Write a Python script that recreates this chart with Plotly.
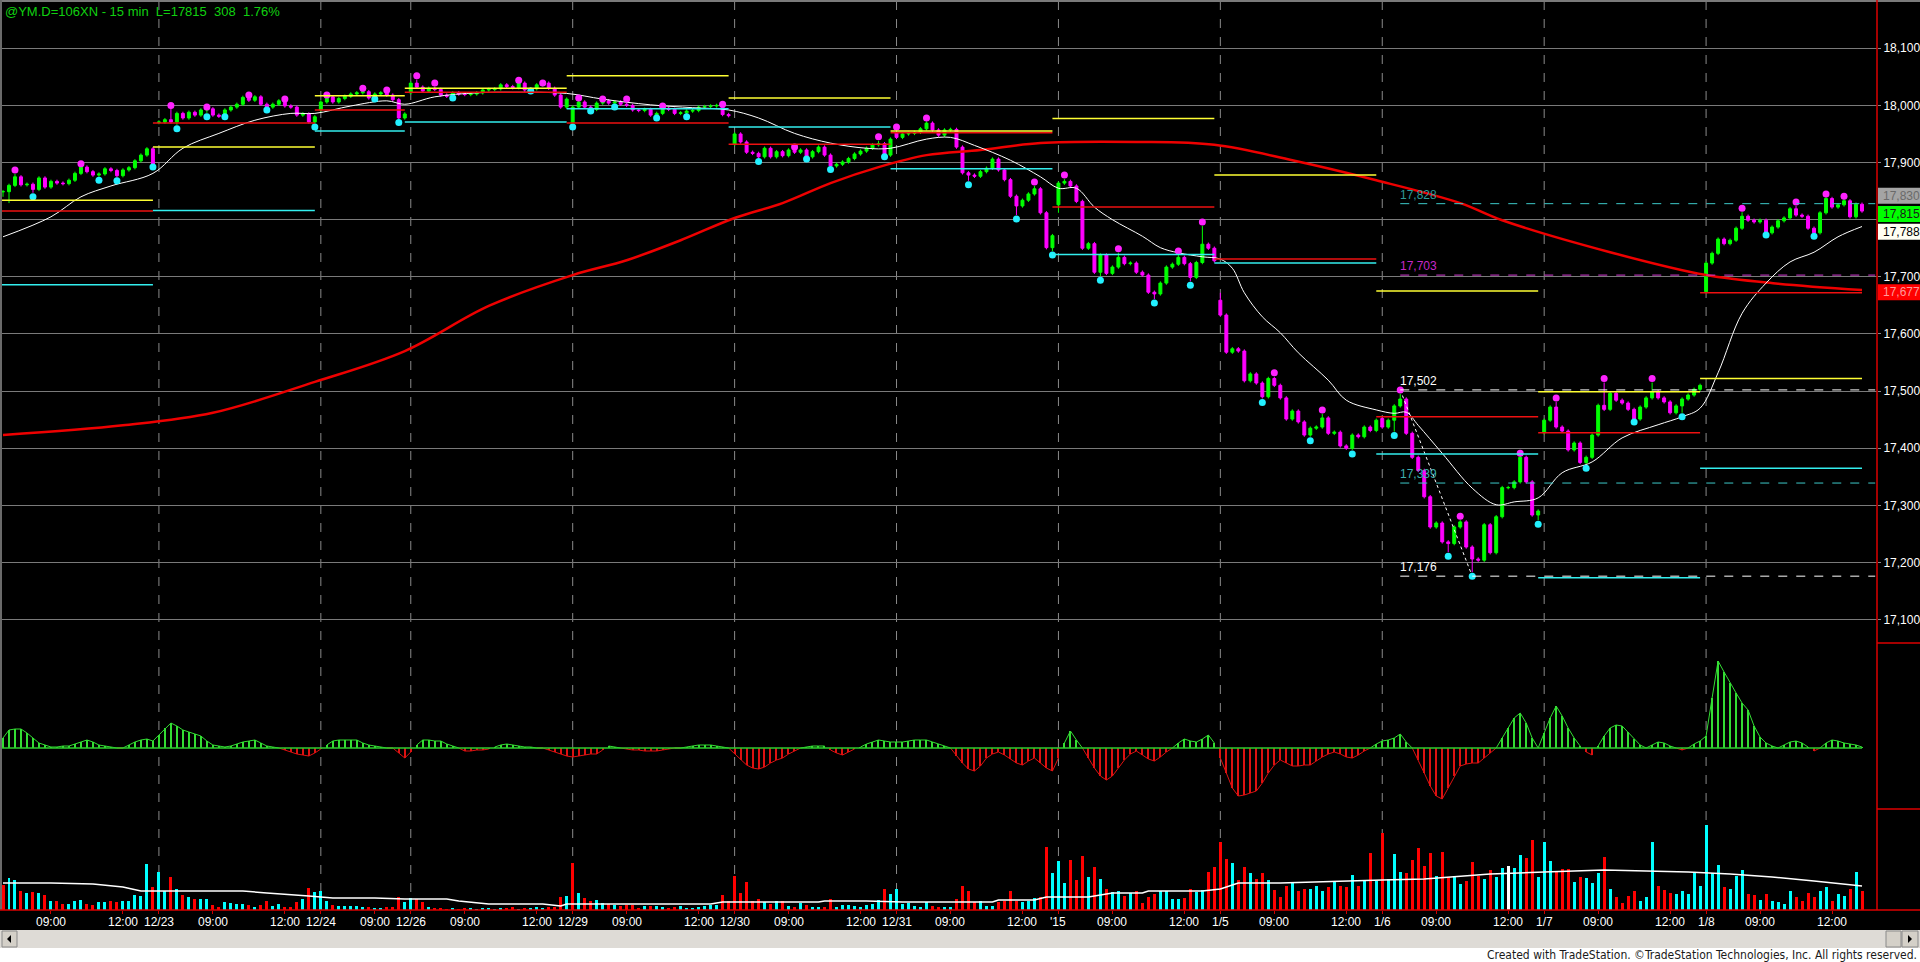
import plotly.graph_objects as go

# ---- chart data ----
SESSIONS = ["12/22", "12/23", "12/24", "12/26", "12/29", "12/30",
            "12/31", "'15", "1/5", "1/6", "1/7", "1/8"]
HIDDEN_FIRST = 1  # first bar of 12/22 scrolled off the left edge

SESSION_OPENS = [17849, 17970, 17992, 18022, 17969, 17932,
                 17952, 17826, 17659, 17452, 17427, 17674]

CLOSES = [
    [17849, 17860, 17875, 17861, 17862, 17853, 17873, 17857, 17867, 17864, 17863, 17869, 17881,
     17892, 17884, 17878, 17880, 17889, 17886, 17877, 17887, 17891, 17903, 17913, 17924, 17896],
    [17971, 17975, 17971, 17986, 17978, 17988, 17983, 17992, 17994, 17983, 17981, 17992, 17997, 18002,
     18014, 18009, 18015, 18002, 17997, 18002, 18008, 17999, 17997, 17983, 17985, 17971, 17980],
    [18006, 18015, 18006, 18012, 18016, 18020, 18022, 18024, 18013, 18020, 18022, 18018, 18010, 17978, 17985],
    [18039, 18032, 18025, 18030, 18028, 18018, 18016, 18022, 18020, 18019, 18020, 18022, 18027, 18028,
     18029, 18036, 18033, 18031, 18039, 18027, 18029, 18036, 18039, 18030, 18018, 17997, 18011],
    [17997, 18006, 17997, 17993, 18004, 18008, 18004, 18006, 18002, 18000, 17992, 17991, 17993, 17983,
     17986, 17995, 17993, 17986, 17987, 17990, 17991, 17997, 17998, 17999, 18000, 17984, 17982],
    [17950, 17936, 17918, 17916, 17910, 17925, 17910, 17919, 17912, 17922, 17918, 17922, 17910, 17919,
     17927, 17913, 17894, 17897, 17901, 17907, 17915, 17920, 17925, 17931, 17933, 17913, 17941],
    [17944, 17950, 17951, 17953, 17959, 17969, 17957, 17948, 17957, 17958, 17927, 17882, 17878, 17876,
     17884, 17890, 17906, 17887, 17870, 17841, 17824, 17834, 17845, 17854, 17812, 17751, 17772],
    [17864, 17867, 17859, 17832, 17750, 17758, 17708, 17738, 17706, 17717, 17734, 17723, 17724, 17708,
     17703, 17673, 17670, 17689, 17717, 17722, 17734, 17723, 17699, 17725, 17757, 17750, 17728],
    [17633, 17568, 17574, 17570, 17518, 17530, 17514, 17490, 17522, 17510, 17488, 17451, 17465, 17446,
     17423, 17435, 17437, 17453, 17426, 17428, 17404, 17400, 17423, 17420, 17437, 17431, 17449],
    [17437, 17449, 17474, 17486, 17426, 17384, 17361, 17315, 17262, 17269, 17236, 17233, 17262, 17271,
     17227, 17206, 17204, 17266, 17217, 17280, 17331, 17331, 17341, 17384, 17341, 17283, 17290],
    [17449, 17472, 17437, 17430, 17397, 17409, 17375, 17384, 17423, 17475, 17468, 17496, 17484, 17479,
     17468, 17451, 17472, 17488, 17499, 17488, 17481, 17462, 17474, 17486, 17493, 17503, 17510],
    [17724, 17741, 17766, 17758, 17764, 17785, 17806, 17799, 17796, 17799, 17777, 17787, 17798, 17803,
     17819, 17808, 17806, 17785, 17777, 17812, 17837, 17822, 17826, 17833, 17805, 17827, 17815],
]

# long wicks that stick out of the bodies
WICK_HIGH = {28: 17995, 203: 17672, 176: 17866}
WICK_LOW = {176: 17812, 0: 17840, 1: 17829}

# swing dots
SWING_HIGH_BAR = [2, 13, 28, 34, 41, 47, 54, 60, 64, 69, 72, 86, 90, 96, 100, 104, 110, 120, 132,
                  146, 149, 154, 172, 177, 186, 196, 200, 212, 220, 233, 243, 253, 259, 267, 275,
                  290, 299, 304, 307]
SWING_HIGH = [17887, 17898, 18000, 17997, 18018, 18011, 18018, 18030, 18027, 18052, 18039, 18044,
              18039, 18013, 18011, 18011, 17999, 18002, 17927, 17945, 17962, 17978, 17866, 17878,
              17749, 17745, 17796, 17532, 17467, 17502, 17281, 17391, 17488, 17522, 17522, 17820,
              17831, 17845, 17841]
SWING_LOW_BAR = [5, 16, 19, 25, 29, 34, 37, 44, 52, 62, 66, 75, 88, 95, 98, 102, 109, 114, 126, 134,
                 138, 147, 161, 169, 175, 183, 192, 198, 210, 218, 225, 232, 241, 245, 256, 264,
                 272, 280, 294, 302]
SWING_LOW = [17840, 17869, 17868, 17892, 17959, 17980, 17980, 17992, 17962, 18011, 17970, 18013,
             18025, 17962, 17990, 17997, 17978, 17980, 17902, 17906, 17888, 17910, 17861, 17801,
             17738, 17694, 17654, 17685, 17480, 17413, 17390, 17422, 17211, 17176, 17267, 17365,
             17446, 17455, 17773, 17771]

# per-session reference levels
LEVEL_YELLOW = [17834, 17927, 18017, 18030, 18052, 18013, 17955, 17977, 17878, 17675, 17499, 17522]
LEVEL_RED = [17815, 17969, 17992, 18023, 17969, 17932, 17952, 17822, 17731, 17455, 17427, 17672]
LEVEL_CYAN = [17686, 17816, 17955, 17971, 17994, 17962, 17889, 17739, 17724, 17390, 17173, 17365]

# moving averages
MA_FAST_BAR = [0, 8, 13, 18, 25, 30, 36, 42, 48, 52, 58, 64, 67, 72, 79, 85, 94, 100, 108, 115, 121,
               126, 132, 138, 144, 148, 154, 158, 162, 168, 173, 176, 179, 182, 185, 190, 193, 196,
               200, 203, 205, 207, 210, 213, 216, 221, 224, 229, 232, 234, 236, 240, 245, 249, 252,
               256, 260, 265, 270, 276, 280, 283, 286, 290, 294, 298, 302, 306, 310]
MA_FAST = [17770, 17805, 17840, 17859, 17881, 17925, 17951, 17974, 17986, 17986, 17999, 18008, 18002,
           18015, 18022, 18023, 18021, 18011, 18001, 17996, 17992, 17978, 17951, 17934, 17925, 17925,
           17941, 17944, 17930, 17904, 17875, 17855, 17855, 17822, 17800, 17771, 17751, 17742, 17735,
           17731, 17715, 17672, 17630, 17602, 17567, 17519, 17484, 17467, 17461, 17463, 17440, 17391,
           17330, 17301, 17306, 17313, 17357, 17376, 17418, 17441, 17455, 17470, 17532, 17636, 17689,
           17726, 17743, 17770, 17788]
MA_SLOW_BAR = [0, 20, 35, 52, 67, 81, 95, 104, 113, 122, 130, 138, 146, 154, 163, 173, 189, 202,
               215, 229, 243, 250, 268, 284, 296, 310]
MA_SLOW = [17423, 17440, 17462, 17516, 17570, 17649, 17703, 17729, 17764, 17803, 17829, 17864,
           17892, 17913, 17922, 17934, 17936, 17931, 17904, 17869, 17829, 17799, 17743, 17703,
           17688, 17677]

# dashed levels drawn from the 1/6 swing high onwards
MARK_BAR = 233
MARK_LEVELS = [17828, 17703, 17502, 17339, 17176]
MARK_TEXT = ["17,828", "17,703", "17,502", "17,339", "17,176"]
MARK_LINE_COLORS = ["#3cc8c8", "#d23cd2", "#ffffff", "#3cc8c8", "#ffffff"]
MARK_TEXT_COLORS = ["#2f9a9a", "#c828c8", "#ffffff", "#3fb0b0", "#ffffff"]
ZIGZAG_BAR = [233, 245]
ZIGZAG = [17502, 17176]

# oscillator (pixels above the zero line)
OSC = [10, 18, 19, 19, 15, 10, 5, 3, 1, 1,
       2, 2, 4, 6, 8, 6, 3, 2, 1, 0,
       0, 3, 6, 8, 9, 7, 13, 20, 25, 22,
       18, 16, 14, 12, 7, 3, 2, 1, 2, 4,
       6, 7, 8, 5, 2, 1, 0, -2, -4, -6,
       -7, -8, -5, -1, 3, 7, 8, 8, 8, 8,
       5, 3, 2, 1, 0, 0, -5, -10, -4, 3,
       8, 8, 7, 7, 4, 2, 0, -3, -3, -2,
       -2, -1, 1, 3, 4, 3, 2, 1, 1, 0,
       0, -2, -4, -6, -8, -9, -8, -7, -6, -6,
       -2, 2, 1, 0, -1, -2, -2, -3, -3, -3,
       -2, -1, 0, 0, 1, 2, 3, 3, 3, 2,
       1, 0, -6, -12, -17, -20, -21, -19, -15, -12,
       -10, -6, -3, 0, 1, 2, 2, 2, -2, -5,
       -7, -4, -1, 1, 4, 6, 8, 7, 6, 6,
       6, 7, 8, 8, 8, 6, 4, 2, 0, -8,
       -15, -21, -23, -18, -10, -6, -4, -7, -11, -15,
       -17, -13, -10, -15, -20, -23, -10, 5, 17, 8,
       0, -10, -20, -28, -32, -28, -20, -12, -6, -3,
       -7, -11, -13, -9, -4, 0, 5, 9, 7, 6,
       9, 13, 5, -10, -25, -40, -48, -47, -45, -43,
       -35, -25, -17, -12, -15, -18, -18, -17, -17, -13,
       -9, -6, -4, -6, -9, -10, -7, -3, 0, 4,
       7, 8, 10, 14, 6, 0, -12, -25, -38, -48,
       -51, -40, -28, -18, -16, -15, -15, -10, -5, 0,
       10, 20, 30, 35, 25, 10, 0, 15, 30, 42,
       32, 20, 10, 2, -4, -7, 2, 12, 20, 23,
       22, 16, 9, 3, 0, 3, 6, 5, 2, 0,
       -2, 0, 4, 7, 12, 50, 87, 76, 65, 55,
       45, 38, 22, 11, 5, 2, 0, 3, 6, 7,
       5, 1, -3, 0, 5, 8, 7, 5, 4, 3, 1]

# volume (relative bar heights)
VOLUME = [
    25, 32, 30, 19, 17, 18, 17, 15, 9, 9, 6, 6, 9, 10, 6, 5, 8, 8, 9, 8, 9, 9, 15, 14, 46, 23,
    38, 19, 33, 21, 15, 13, 11, 11, 11, 5, 3, 8, 7, 6, 6, 5, 3, 5, 9, 4, 6, 3, 3, 8, 11, 22, 18,
    19, 9, 5, 4, 4, 4, 4, 3, 3, 2, 2, 3, 3, 13, 8,
    12, 11, 8, 3, 2, 2, 1, 2, 1, 2, 2, 1, 2, 2, 1, 2, 2, 3, 1, 2, 2, 3, 2, 3, 3, 13, 14,
    47, 17, 12, 9, 10, 7, 6, 5, 4, 5, 5, 2, 4, 4, 4, 3, 2, 3, 4, 2, 2, 3, 4, 5, 5, 15, 9,
    34, 17, 28, 9, 11, 8, 6, 9, 9, 4, 3, 7, 5, 3, 3, 3, 11, 3, 5, 5, 4, 3, 5, 6, 10, 21, 16,
    21, 6, 7, 4, 3, 8, 4, 3, 3, 3, 11, 24, 19, 8, 9, 4, 4, 8, 9, 19, 9, 8, 9, 12, 13, 63, 37,
    49, 27, 50, 30, 54, 33, 43, 31, 21, 18, 19, 14, 17, 19, 7, 13, 16, 19, 19, 11, 11, 12, 21, 18, 20, 38, 43,
    68, 51, 47, 30, 43, 37, 31, 37, 30, 20, 13, 24, 27, 19, 21, 21, 24, 19, 23, 29, 24, 23, 35, 24, 29, 57, 29,
    77, 31, 56, 38, 37, 50, 62, 44, 57, 34, 58, 33, 34, 26, 29, 48, 34, 31, 40, 33, 42, 44, 42, 55, 52, 70, 33,
    68, 49, 38, 41, 41, 28, 33, 32, 27, 37, 53, 21, 13, 7, 14, 19, 9, 13, 68, 24, 20, 17, 16, 19, 16, 37, 24,
    85, 37, 45, 23, 21, 34, 40, 16, 15, 10, 16, 9, 8, 6, 19, 13, 9, 17, 13, 19, 23, 9, 16, 14, 21, 38, 19,
]
VOL_AVG_BAR = [0, 8, 15, 20, 23, 30, 40, 44, 47, 51, 55, 62, 67, 74, 76, 81, 90, 93, 94, 106, 118,
               120, 136, 137, 144, 150, 165, 166, 172, 174, 181, 185, 190, 191, 200, 203, 206, 213,
               223, 230, 237, 242, 248, 257, 267, 274, 281, 288, 295, 302, 310]
VOL_AVG = [27, 27, 26, 23, 19, 19, 19, 17, 16, 14, 12, 12, 11, 11, 9, 6, 6, 4, 6, 6, 6, 8, 8, 9, 9,
           8, 8, 10, 10, 13, 13, 17, 17, 19, 19, 21, 27, 27, 29, 30, 31, 33, 36, 38, 40, 39, 38,
           36, 33, 29, 24]

PRICE_TICKS = [17100, 17200, 17300, 17400, 17500, 17600, 17700, 17800, 17900, 18000, 18100]
COVERED_TICKS = [17800]  # label sits under the last-price flags
# right-edge value flags: text, centre price, background, text colour
FLAGS = [("17,830", 17842, "#a4a4a4", "#6a6a6a"),
         ("17,815", 17810, "#00ff00", "#1a1a1a"),
         ("17,788", 17779, "#fffff2", "#000000"),
         ("17,677", 17673, "#ff0000", "#ff9a9a")]

TITLE = "@YM.D=106XN - 15 min  L=17815  308  1.76%"
FOOTER = "Created with TradeStation. \u00a9TradeStation Technologies, Inc. All rights reserved."

FONT = "Liberation Sans, Arial, sans-serif"
NARROW = "Liberation Sans Narrow, DejaVu Sans Condensed, Liberation Sans, sans-serif"

# ---- pixel helpers for the page layout ----
W, H = 1920, 962
PLOT_R, PLOT_T, PLOT_B = 1877, 2, 910


def fx(px):
    return px / PLOT_R


def fy(py):
    return (PLOT_B - py) / (PLOT_B - PLOT_T)


# ---- build bars ----
opens, highs, lows, closes, starts = [], [], [], [], []
prev = None
pos = 0
for s, cl in enumerate(CLOSES):
    starts.append(pos - (HIDDEN_FIRST if s == 0 else 0))
    for k, c in enumerate(cl):
        o = SESSION_OPENS[s] if k == 0 else prev
        opens.append(o)
        closes.append(c)
        highs.append(max(o, c) + 3)
        lows.append(min(o, c) - 3)
        prev = c
        pos += 1
n = len(closes)
bars = list(range(n))

for b, p in zip(SWING_HIGH_BAR, SWING_HIGH):
    highs[b] = max(highs[b], p - 7)
for b, p in zip(SWING_LOW_BAR, SWING_LOW):
    lows[b] = min(lows[b], p + 7)
for b, p in WICK_HIGH.items():
    highs[b] = max(highs[b], p)
for b, p in WICK_LOW.items():
    lows[b] = min(lows[b], p)

vol_colors = []
for i, c in enumerate(closes):
    ref = closes[i - 1] if i > 0 else c + 1
    vol_colors.append("#00ffff" if c > ref else ("#ff0000" if c < ref else "#ffffff"))

fig = go.Figure()

fig.add_trace(go.Candlestick(
    x=bars, open=opens, high=highs, low=lows, close=closes,
    increasing=dict(line=dict(color="#00ff00", width=1), fillcolor="#00ff00"),
    decreasing=dict(line=dict(color="#ff00ff", width=1), fillcolor="#ff00ff"),
    xaxis="x", yaxis="y", hoverinfo="skip", showlegend=False))

fig.add_trace(go.Scatter(x=MA_SLOW_BAR, y=MA_SLOW, mode="lines", line=dict(color="#ee0000", width=2.5, shape="spline"),
                         xaxis="x", yaxis="y", hoverinfo="skip", showlegend=False))
fig.add_trace(go.Scatter(x=MA_FAST_BAR, y=MA_FAST, mode="lines", line=dict(color="#ffffff", width=1, shape="spline"),
                         xaxis="x", yaxis="y", hoverinfo="skip", showlegend=False))
fig.add_trace(go.Scatter(x=ZIGZAG_BAR, y=ZIGZAG, mode="lines", line=dict(color="#ffffff", width=1, dash="dot"),
                         xaxis="x", yaxis="y", hoverinfo="skip", showlegend=False))
fig.add_trace(go.Scatter(x=SWING_HIGH_BAR, y=SWING_HIGH, mode="markers",
                         marker=dict(color="#ff22ff", size=7), xaxis="x", yaxis="y",
                         hoverinfo="skip", showlegend=False))
fig.add_trace(go.Scatter(x=SWING_LOW_BAR, y=SWING_LOW, mode="markers",
                         marker=dict(color="#22f0ff", size=7), xaxis="x", yaxis="y",
                         hoverinfo="skip", showlegend=False))

# oscillator: stems + outline
osc_colors = ["#33dd33" if v >= 0 else "#dd1111" for v in OSC]
fig.add_trace(go.Bar(x=bars, y=OSC, width=0.2, marker=dict(color=osc_colors, line=dict(width=0)),
                     xaxis="x", yaxis="y2", hoverinfo="skip", showlegend=False))
fig.add_trace(go.Scatter(x=bars, y=[v if v >= 0 else None for v in OSC], mode="lines",
                         line=dict(color="#33dd33", width=1), xaxis="x", yaxis="y2",
                         hoverinfo="skip", showlegend=False))
fig.add_trace(go.Scatter(x=bars, y=[v if v <= 0 else None for v in OSC], mode="lines",
                         line=dict(color="#dd1111", width=1), xaxis="x", yaxis="y2",
                         hoverinfo="skip", showlegend=False))

# volume
fig.add_trace(go.Bar(x=bars, y=VOLUME, width=0.5, marker=dict(color=vol_colors, line=dict(width=0)),
                     xaxis="x", yaxis="y3", hoverinfo="skip", showlegend=False))
fig.add_trace(go.Scatter(x=VOL_AVG_BAR, y=VOL_AVG, mode="lines", line=dict(color="#ffffff", width=1.5),
                         xaxis="x", yaxis="y3", hoverinfo="skip", showlegend=False))

# ---- shapes ----
shapes = []
for s, st in enumerate(starts):
    if s > 0:
        shapes.append(dict(type="line", xref="x", yref="paper", x0=st, x1=st, y0=0, y1=1,
                           line=dict(color="#8a8a8a", width=1, dash="dash"), layer="below"))
    last = st + len(CLOSES[s]) + (HIDDEN_FIRST if s == 0 else 0) - 1
    for lv, col in ((LEVEL_YELLOW[s], "#ffff33"), (LEVEL_RED[s], "#ee1111"), (LEVEL_CYAN[s], "#33eeee")):
        shapes.append(dict(type="line", xref="x", yref="y", x0=max(st - 1, -0.5), x1=last, y0=lv, y1=lv,
                           line=dict(color=col, width=1.5)))

for lv, col in zip(MARK_LEVELS, MARK_LINE_COLORS):
    shapes.append(dict(type="line", xref="x", yref="y", x0=MARK_BAR, x1=312.2, y0=lv, y1=lv,
                       line=dict(color=col, width=1, dash="dash")))

shapes.append(dict(type="line", xref="x", yref="y2", x0=-0.5, x1=n - 1, y0=0, y1=0,
                   line=dict(color="#2ecc2e", width=1.5)))

# frame: top border, left border, right axis line, panel separators, volume baseline
shapes += [
    dict(type="line", xref="paper", yref="paper", x0=0, x1=fx(W), y0=fy(1), y1=fy(1),
         line=dict(color="#7a7a7a", width=2)),
    dict(type="line", xref="paper", yref="paper", x0=fx(1), x1=fx(1), y0=fy(PLOT_B), y1=fy(0),
         line=dict(color="#6a6a6a", width=2)),
    dict(type="line", xref="paper", yref="paper", x0=1, x1=1, y0=fy(PLOT_B), y1=fy(0),
         line=dict(color="#dd0000", width=1.5)),
    dict(type="line", xref="paper", yref="paper", x0=1, x1=fx(W), y0=fy(643), y1=fy(643),
         line=dict(color="#dd0000", width=1.5)),
    dict(type="line", xref="paper", yref="paper", x0=1, x1=fx(W), y0=fy(809), y1=fy(809),
         line=dict(color="#dd0000", width=1.5)),
    dict(type="line", xref="paper", yref="paper", x0=0, x1=fx(W), y0=0, y1=0,
         line=dict(color="#dd0000", width=1.5)),
]

# value flags on the price scale
annotations = []
for text, p, bg, fg in FLAGS:
    shapes.append(dict(type="rect", xref="paper", yref="y", x0=fx(1878), x1=fx(W), y0=p - 14, y1=p + 14,
                       fillcolor=bg, line=dict(width=0)))
    annotations.append(dict(text=text, xref="paper", yref="y", x=fx(1882), y=p, xanchor="left",
                            yanchor="middle", showarrow=False, borderpad=0,
                            font=dict(family=FONT, size=12, color=fg)))

# scrollbar + footer strip
shapes += [
    dict(type="rect", xref="paper", yref="paper", x0=0, x1=fx(W), y0=fy(H + 2), y1=fy(930),
         fillcolor="#ffffff", line=dict(width=0)),
    dict(type="rect", xref="paper", yref="paper", x0=0, x1=fx(W), y0=fy(948), y1=fy(930),
         fillcolor="#dedbd6", line=dict(width=0)),
    dict(type="rect", xref="paper", yref="paper", x0=fx(2), x1=fx(17), y0=fy(947), y1=fy(931),
         fillcolor="#d4d0c8", line=dict(color="#8a8a8a", width=1)),
    dict(type="rect", xref="paper", yref="paper", x0=fx(1886), x1=fx(1901), y0=fy(947), y1=fy(931),
         fillcolor="#d4d0c8", line=dict(color="#8a8a8a", width=1)),
    dict(type="rect", xref="paper", yref="paper", x0=fx(1902), x1=fx(1918), y0=fy(947), y1=fy(931),
         fillcolor="#d4d0c8", line=dict(color="#8a8a8a", width=1)),
    dict(type="path", xref="paper", yref="paper", fillcolor="#000000", line=dict(width=0),
         path=f"M {fx(7)} {fy(939)} L {fx(11)} {fy(935)} L {fx(11)} {fy(943)} Z"),
    dict(type="path", xref="paper", yref="paper", fillcolor="#000000", line=dict(width=0),
         path=f"M {fx(1912)} {fy(939)} L {fx(1908)} {fy(935)} L {fx(1908)} {fy(943)} Z"),
]

for lv, text, col in zip(MARK_LEVELS, MARK_TEXT, MARK_TEXT_COLORS):
    annotations.append(dict(text=text, xref="x", yref="y", x=MARK_BAR - 0.3, y=lv, yshift=9,
                            xanchor="left", yanchor="middle", showarrow=False,
                            font=dict(family=FONT, size=12, color=col)))

annotations.append(dict(text=TITLE, xref="paper", yref="paper", x=fx(3), y=fy(11), xanchor="left",
                        yanchor="middle", showarrow=False, font=dict(family=FONT, size=13, color="#10d010")))
annotations.append(dict(text=FOOTER, xref="paper", yref="paper", x=fx(1919), y=fy(955), xanchor="right",
                        yanchor="middle", showarrow=False, font=dict(family=NARROW, size=12, color="#1a1a1a")))

# time scale: ticks on the axis, labels as text so they sit just under the baseline
tickvals, ticktext = [], []
for s, st in enumerate(starts):
    length = len(CLOSES[s]) + (HIDDEN_FIRST if s == 0 else 0)
    if s > 0:
        tickvals.append(st)
        ticktext.append(SESSIONS[s])
    if length > 9:
        tickvals.append(st + 9)
        ticktext.append("09:00")
    if length > 21:
        tickvals.append(st + 21)
        ticktext.append("12:00")
for tv, tt in zip(tickvals, ticktext):
    annotations.append(dict(text=tt, xref="x", yref="paper", x=tv, y=fy(922), xanchor="center",
                            yanchor="middle", showarrow=False, font=dict(family=FONT, size=12, color="#ffffff")))

price_text = ["" if v in COVERED_TICKS else f"{v:,}" for v in PRICE_TICKS]

fig.update_layout(
    width=W, height=H,
    margin=dict(l=0, r=W - PLOT_R, t=PLOT_T, b=H - PLOT_B, autoexpand=False),
    paper_bgcolor="#000000", plot_bgcolor="#000000",
    showlegend=False, bargap=0, barmode="overlay",
    shapes=shapes, annotations=annotations,
    xaxis=dict(domain=[0, 1], range=[-0.5, 312.5], anchor="y3", rangeslider=dict(visible=False),
               tickvals=tickvals, showticklabels=False, ticks="outside", ticklen=3, tickcolor="#cc0000",
               showgrid=False, zeroline=False, showline=False, fixedrange=True),
    yaxis=dict(domain=[fy(643), 1], range=[17059, 18181], side="right", anchor="x",
               tickvals=PRICE_TICKS, ticktext=price_text,
               ticks="outside", ticklen=3, tickcolor="#8a8a8a",
               tickfont=dict(family=FONT, size=12, color="#ffffff"),
               showgrid=True, gridcolor="#7a7a7a", gridwidth=1, zeroline=False, showline=False),
    yaxis2=dict(domain=[fy(809), fy(643)], range=[-61, 105], anchor="x", showticklabels=False,
                showgrid=False, zeroline=False, showline=False),
    yaxis3=dict(domain=[0, fy(809)], range=[0, 101], anchor="x", showticklabels=False,
                showgrid=False, zeroline=False, showline=False),
)

fig.write_html("out.html", config={"displayModeBar": False},
               post_script="document.body.style.margin='0';document.body.style.overflow='hidden';")
